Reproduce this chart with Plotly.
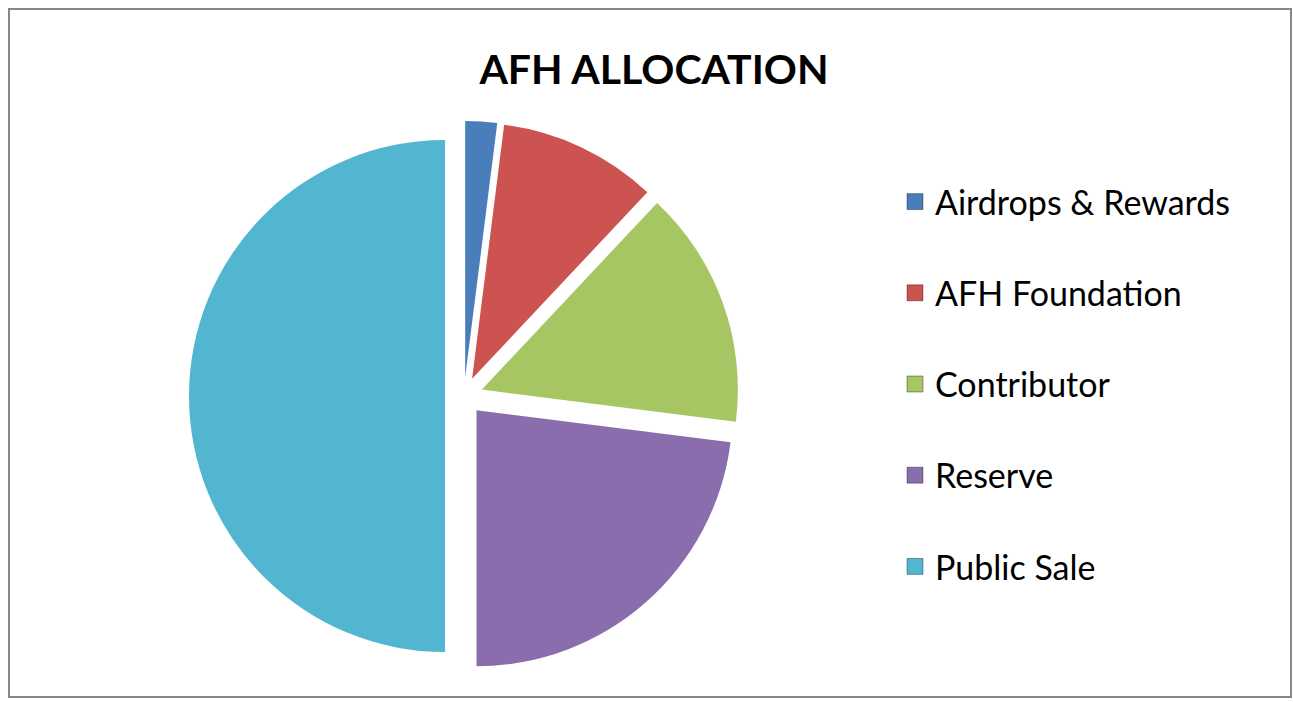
import plotly.graph_objects as go

labels = ["Airdrops & Rewards", "AFH Foundation", "Contributor", "Reserve", "Public Sale"]
values = [2, 10, 15, 23, 50]
colors = ["#4A7EBB", "#CD5351", "#A6C664", "#8A6DAD", "#52B6D0"]
title_text = "AFH ALLOCATION"

W, H = 1293, 702
FONT = "Lato, 'Open Sans', sans-serif"

fig = go.Figure()

fig.add_trace(go.Pie(
    labels=labels,
    values=values,
    sort=False,
    direction="clockwise",
    rotation=0,
    pull=[0.074] * len(values),
    marker=dict(colors=colors, line=dict(width=0)),
    textinfo="none",
    hoverinfo="label+value",
    showlegend=False,
    domain=dict(x=[189 / W, 739 / W], y=[1 - 671 / H, 1 - 121 / H]),
))

# legend entries (one per category, same colours as slices)
for lab, col in zip(labels, colors):
    fig.add_trace(go.Scatter(
        x=[None], y=[None], mode="markers", name=lab, legendgroup=lab,
        marker=dict(symbol="square", size=16, color=col,
                    line=dict(width=1, color="rgba(0,0,0,0.35)")),
        showlegend=True, hoverinfo="skip",
    ))

fig.update_layout(
    width=W, height=H,
    margin=dict(l=0, r=0, t=0, b=0),
    paper_bgcolor="white",
    plot_bgcolor="white",
    title=dict(text="<b>" + title_text + "</b>", x=654 / W, xanchor="center",
               y=1 - 70 / H, yanchor="middle", yref="container",
               font=dict(family=FONT, size=41, color="black")),
    xaxis=dict(visible=False),
    yaxis=dict(visible=False),
    legend=dict(x=895 / W, xanchor="left", y=1 - 173 / H, yanchor="top",
                font=dict(family=FONT, size=34, color="black"),
                tracegroupgap=44, traceorder="grouped",
                bgcolor="rgba(0,0,0,0)"),
    shapes=[dict(type="rect", xref="paper", yref="paper",
                 x0=9 / W, x1=1291 / W, y0=1 - 697 / H, y1=1 - 9 / H,
                 line=dict(color="#878787", width=2), fillcolor="rgba(0,0,0,0)",
                 layer="below")],
)

fig.write_html(
    "out.html",
    config={"displayModeBar": False},
    post_script="document.body.style.margin='0';document.body.style.overflow='hidden';",
)
